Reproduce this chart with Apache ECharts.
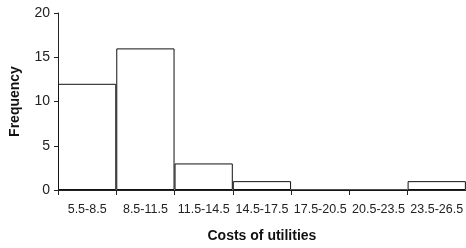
<!DOCTYPE html>
<html>
<head>
<meta charset="utf-8">
<script src="https://cdn.jsdelivr.net/npm/echarts@6/dist/echarts.min.js"></script>
<style>
  html, body { margin: 0; padding: 0; background: #fff; }
  #chart { width: 466px; height: 248px; }
</style>
</head>
<body>
<div id="chart"></div>
<script>
// Histogram data
var categories = ['5.5-8.5', '8.5-11.5', '11.5-14.5', '14.5-17.5', '17.5-20.5', '20.5-23.5', '23.5-26.5'];
var frequencies = [12, 16, 3, 1, 0, 0, 1];
var yTicks = [0, 5, 10, 15, 20];

var chart = echarts.init(document.getElementById('chart'));
chart.setOption({
  animation: false,
  grid: { left: 58, top: 13, width: 410, height: 178 },
  xAxis: {
    type: 'category',
    data: categories,
    name: 'Costs of utilities',
    nameLocation: 'middle',
    nameGap: 39,
    nameTextStyle: { fontFamily: 'Liberation Sans', fontWeight: 'bold', fontSize: 14, color: '#111' },
    axisLine: { lineStyle: { color: '#222', width: 1 } },
    axisTick: { show: true, length: 5, lineStyle: { color: '#222' } },
    axisLabel: { interval: 0, fontFamily: 'Liberation Sans', fontSize: 12.5, color: '#222', margin: 13 }
  },
  yAxis: {
    type: 'value',
    min: yTicks[0],
    max: yTicks[yTicks.length - 1],
    interval: 5,
    name: 'Frequency',
    nameLocation: 'middle',
    nameGap: 36,
    nameTextStyle: { fontFamily: 'Liberation Sans', fontWeight: 'bold', fontSize: 14, color: '#111' },
    axisLine: { show: true, lineStyle: { color: '#222', width: 1 } },
    axisTick: { show: true, length: 4, lineStyle: { color: '#222' } },
    axisLabel: { fontFamily: 'Liberation Sans', fontSize: 14, color: '#222', margin: 8 },
    splitLine: { show: false }
  },
  series: [{
    type: 'bar',
    data: frequencies,
    barCategoryGap: 0,
    itemStyle: { color: '#fff', borderColor: '#111', borderWidth: 1 }
  }]
});
</script>
</body>
</html>
